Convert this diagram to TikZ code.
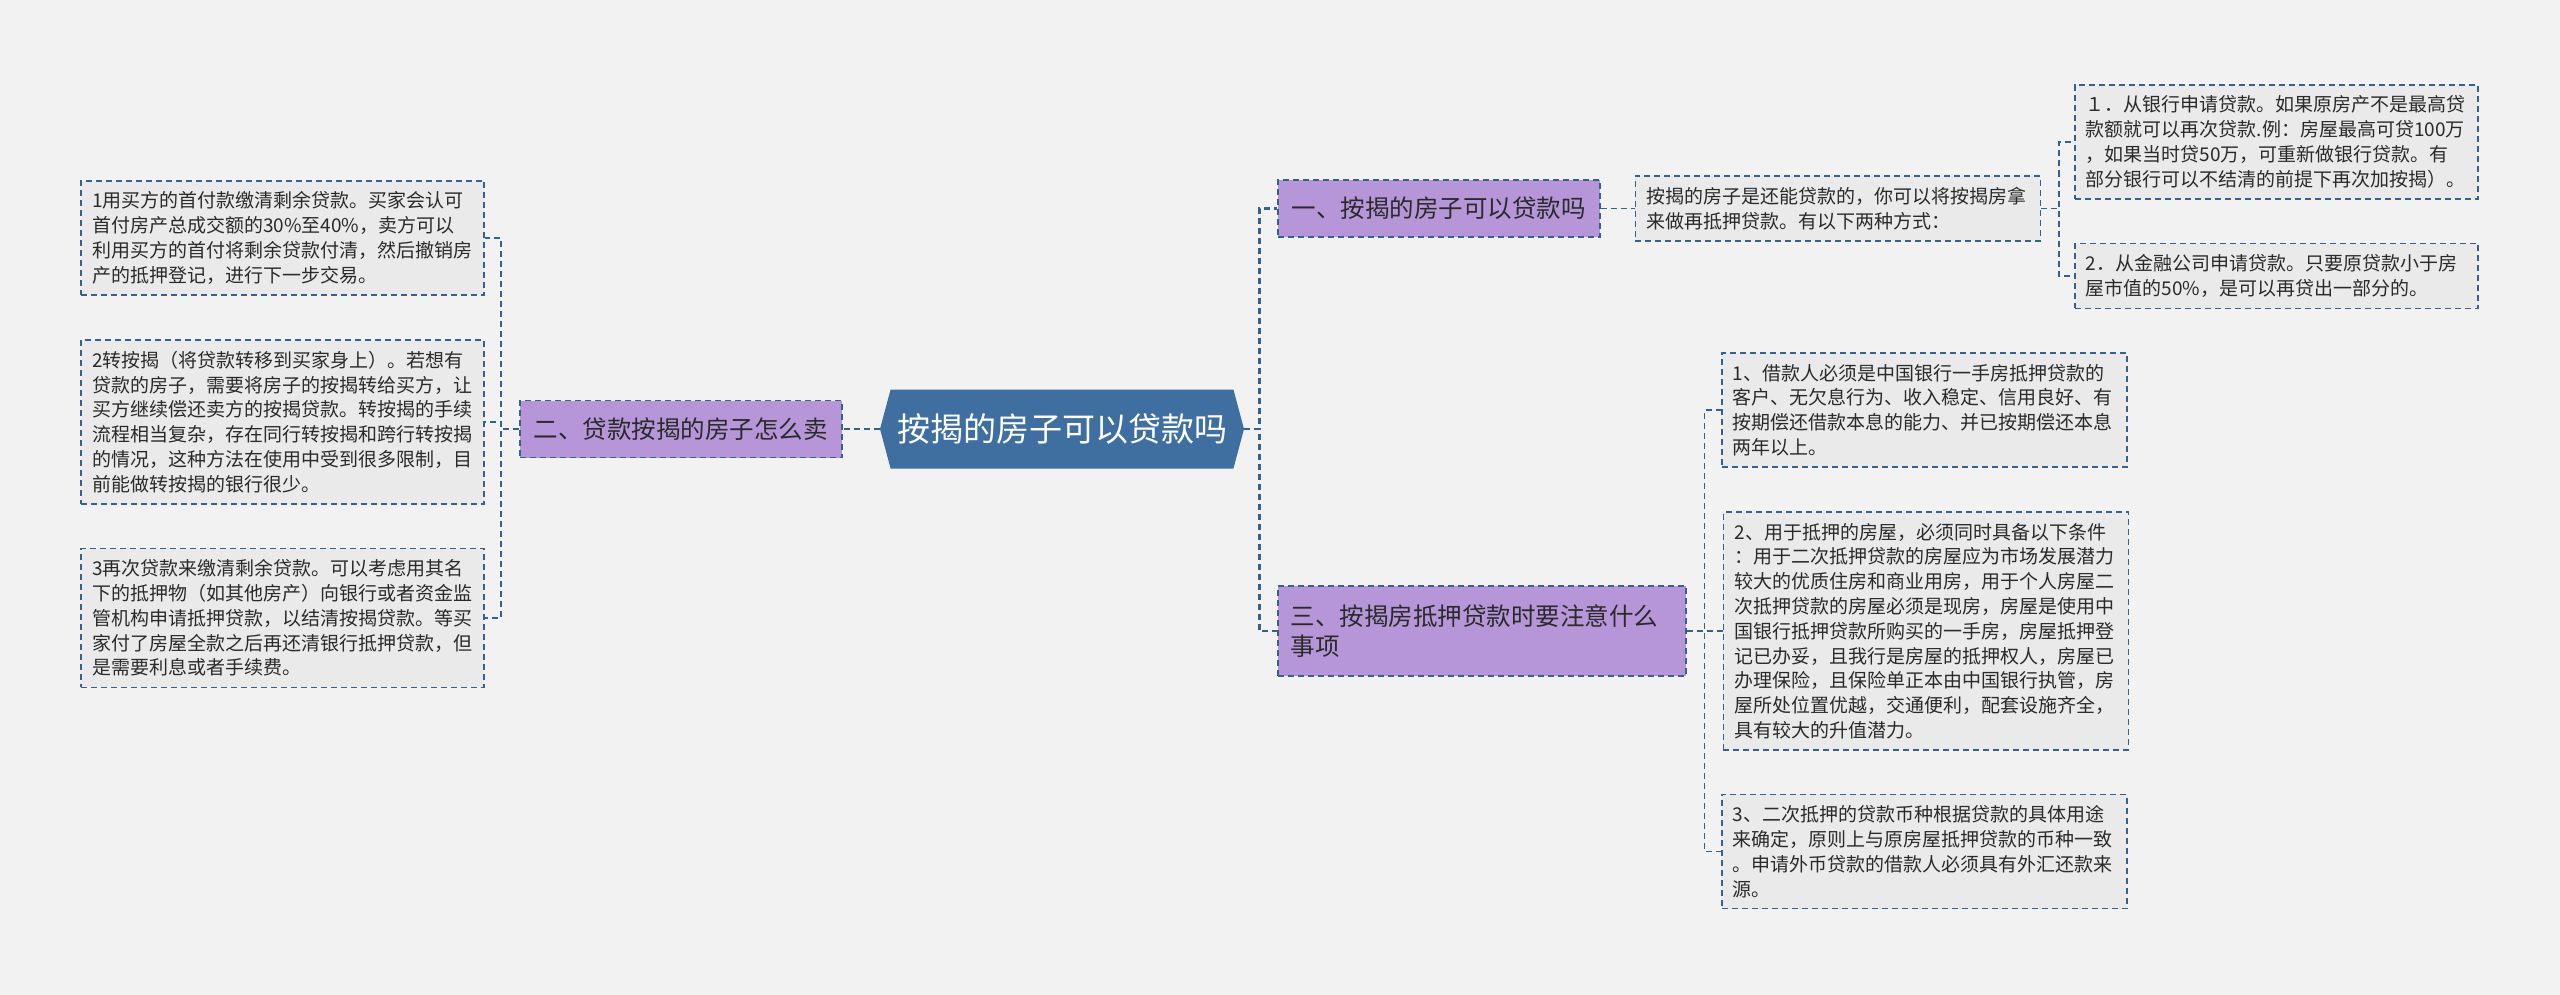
\documentclass[tikz,border=0pt]{standalone}
\usepackage{fontspec}
\setmainfont{Noto Sans CJK SC}
\usepackage{xcolor}
\usetikzlibrary{positioning,shapes.symbols}

\definecolor{bgcol}{HTML}{F2F2F2}
\definecolor{rootcol}{HTML}{3E6FA0}
\definecolor{topiccol}{HTML}{B696D9}
\definecolor{leafcol}{HTML}{EAEAEA}
\definecolor{edgecol}{HTML}{35618C}
\definecolor{txtcol}{HTML}{2A2A2A}

\begin{document}
\begin{tikzpicture}[
    x=0.5pt,y=-0.5pt,
    root/.style={signal,signal to=west and east,signal pointer angle=150,fill=rootcol,text=white,font=\fontsize{16.5pt}{20pt}\selectfont,minimum width=182pt,minimum height=39.5pt,inner sep=0pt},
    topic/.style={rectangle,draw=edgecol,dash pattern=on 3pt off 2pt,line width=0.8pt,fill=topiccol,text=txtcol,font=\fontsize{12.25pt}{15pt}\selectfont,align=left,minimum width=161pt,minimum height=28.5pt,inner xsep=6.5pt},
    leaf/.style={rectangle,draw=edgecol,dash pattern=on 3pt off 2pt,line width=0.85pt,fill=leafcol,text=txtcol,font=\fontsize{9.5pt}{12.4pt}\selectfont,align=left,text width=190.5pt,inner xsep=5.5pt,inner ysep=5.5pt},
    link/.style={draw=edgecol,dash pattern=on 3pt off 2pt,line width=0.85pt},
    mainlink/.style={link,line width=1.4pt}
]
\fill[bgcol] (0,0) rectangle (2560,995);
\useasboundingbox (0,0) rectangle (2560,995);

% centre
\node[root] (root) at (1062,429) {按揭的房子可以贷款吗};

% left branch
\node[topic,left=18.5pt of root] (sell) {二、贷款按揭的房子怎么卖};
\node[leaf,anchor=east] (sella) at (485,238) {1用买方的首付款缴清剩余贷款。买家会认可\\首付房产总成交额的30\%至40\%，卖方可以\\利用买方的首付将剩余贷款付清，然后撤销房\\产的抵押登记，进行下一步交易。};
\node[leaf,anchor=east] (sellb) at (485,422) {2转按揭（将贷款转移到买家身上）。若想有\\贷款的房子，需要将房子的按揭转给买方，让\\买方继续偿还卖方的按揭贷款。转按揭的手续\\流程相当复杂，存在同行转按揭和跨行转按揭\\的情况，这种方法在使用中受到很多限制，目\\前能做转按揭的银行很少。};
\node[leaf,anchor=east] (sellc) at (485,618) {3再次贷款来缴清剩余贷款。可以考虑用其名\\下的抵押物（如其他房产）向银行或者资金监\\管机构申请抵押贷款，以结清按揭贷款。等买\\家付了房屋全款之后再还清银行抵押贷款，但\\是需要利息或者手续费。};

% right branch, first topic
\node[topic,anchor=west] (canloan) at (1277,208.5) {一、按揭的房子可以贷款吗};
\node[leaf,right=17pt of canloan,text width=191.5pt] (ways) {按揭的房子是还能贷款的，你可以将按揭房拿\\来做再抵押贷款。有以下两种方式：};
\node[leaf,anchor=west] (waya) at (2074,142) {１．从银行申请贷款。如果原房产不是最高贷\\款额就可以再次贷款.例：房屋最高可贷100万\\，如果当时贷50万，可重新做银行贷款。有\\部分银行可以不结清的前提下再次加按揭）。};
\node[leaf,anchor=west] (wayb) at (2074,276) {2．从金融公司申请贷款。只要原贷款小于房\\屋市值的50\%，是可以再贷出一部分的。};

% right branch, third topic
\node[topic,anchor=west,text width=191pt,minimum height=45pt] (notice) at (1277,631) {三、按揭房抵押贷款时要注意什么\\事项};
\node[leaf,right=18pt of notice,text width=191.5pt] (needb) {2、用于抵押的房屋，必须同时具备以下条件\\：用于二次抵押贷款的房屋应为市场发展潜力\\较大的优质住房和商业用房，用于个人房屋二\\次抵押贷款的房屋必须是现房，房屋是使用中\\国银行抵押贷款所购买的一手房，房屋抵押登\\记已办妥，且我行是房屋的抵押权人，房屋已\\办理保险，且保险单正本由中国银行执管，房\\屋所处位置优越，交通便利，配套设施齐全，\\具有较大的升值潜力。};
\node[leaf,anchor=west,text width=191.5pt] (needa) at (1721,410) {1、借款人必须是中国银行一手房抵押贷款的\\客户、无欠息行为、收入稳定、信用良好、有\\按期偿还借款本息的能力、并已按期偿还本息\\两年以上。};
\node[leaf,anchor=west,text width=191.5pt] (needc) at (1721,851.5) {3、二次抵押的贷款币种根据贷款的具体用途\\来确定，原则上与原房屋抵押贷款的币种一致\\。申请外币贷款的借款人必须具有外汇还款来\\源。};

% connectors
\draw[mainlink] (root.west) -- (sell.east);
\draw[mainlink] (root.east) -- ++(15,0) |- (canloan.west);
\draw[mainlink] (root.east) -- ++(15,0) |- (notice.west);
\foreach \n in {sella,sellb,sellc}
  \draw[link] (sell.west) -- ++(-18,0) |- (\n.east);
\draw[link] (canloan.east) -- (ways.west);
\foreach \n in {waya,wayb}
  \draw[link] (ways.east) -- ++(18,0) |- (\n.west);
\foreach \n in {needa,needb,needc}
  \draw[link] (notice.east) -- ++(18,0) |- (\n.west);
\end{tikzpicture}
\end{document}
